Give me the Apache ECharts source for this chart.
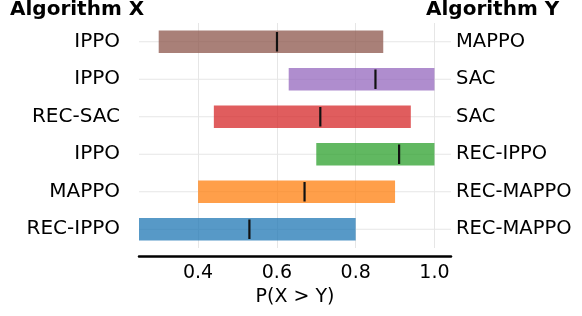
<!DOCTYPE html>
<html><head><meta charset="utf-8">
<script src="https://cdn.jsdelivr.net/npm/echarts@6/dist/echarts.min.js"></script>
<style>html,body{margin:0;padding:0;background:#fff}#c{width:582px;height:316px}</style>
</head><body><div id="c"></div>
<script>
// rows listed bottom to top
const algoX = ['REC-IPPO', 'MAPPO', 'IPPO', 'REC-SAC', 'IPPO', 'IPPO'];
const algoY = ['REC-MAPPO', 'REC-MAPPO', 'REC-IPPO', 'SAC', 'SAC', 'MAPPO'];
const lowVals = [0.25, 0.40, 0.70, 0.44, 0.63, 0.30];
const highVals = [0.80, 0.90, 1.00, 0.94, 1.00, 0.87];
const medianVals = [0.53, 0.67, 0.91, 0.71, 0.85, 0.60];
const barColors = ['#1f77b4', '#ff7f0e', '#2ca02c', '#d62728', '#9467bd', '#8c564b'];
const xTicks = [0.4, 0.6, 0.8, 1.0];
const xMin = 0.25, xMax = 1.042;

const FONT = 'DejaVu Sans';
const chart = echarts.init(document.getElementById('c'), null, {renderer: 'canvas'});
const rows = algoX.map((x, i) => [i, lowVals[i], highVals[i], medianVals[i]]);

chart.setOption({
  animation: false,
  backgroundColor: '#fff',
  title: [
    {text: 'Algorithm X', left: 10, top: 0, padding: 0,
     textStyle: {fontFamily: FONT, fontWeight: 'bold', fontSize: 20, color: '#000'}},
    {text: 'Algorithm Y', left: 426, top: 0, padding: 0,
     textStyle: {fontFamily: FONT, fontWeight: 'bold', fontSize: 20, color: '#000'}}
  ],
  grid: {left: 139, right: 131, top: 23, height: 225, containLabel: false},
  xAxis: {
    type: 'value', min: xMin, max: xMax, offset: 8,
    axisLine: {show: true, onZero: false, lineStyle: {color: '#000', width: 2.5}},
    axisTick: {show: false, customValues: xTicks},
    axisLabel: {customValues: xTicks, margin: 8, fontFamily: FONT, fontSize: 19, color: '#000',
      formatter: v => v.toFixed(1)},
    splitLine: {show: true, lineStyle: {color: '#e6e6e6', width: 1}},
    name: 'P(X > Y)', nameLocation: 'middle', nameGap: 29,
    nameTextStyle: {fontFamily: FONT, fontSize: 19, color: '#000'}
  },
  yAxis: [
    {type: 'category', data: algoX, position: 'left',
     axisLine: {show: false}, axisTick: {show: false}, splitLine: {show: false},
     axisLabel: {margin: 19, fontFamily: FONT, fontSize: 20, color: '#000'}},
    {type: 'category', data: algoY, position: 'right',
     axisLine: {show: false}, axisTick: {show: false}, splitLine: {show: false},
     axisLabel: {margin: 5, fontFamily: FONT, fontSize: 19.5, color: '#000'}}
  ],
  series: [{
    type: 'custom',
    xAxisIndex: 0, yAxisIndex: 0,
    data: rows,
    encode: {x: [1, 2, 3], y: 0},
    renderItem: function (params, api) {
      const idx = api.value(0);
      const lo = api.coord([api.value(1), idx]);
      const hi = api.coord([api.value(2), idx]);
      const md = api.coord([api.value(3), idx]);
      const band = api.size([0, 1])[1];
      const h = band * 0.6;
      const mh = band * 0.52;
      const gl = api.coord([xMin, idx]);
      const gr = api.coord([xMax, idx]);
      return {
        type: 'group',
        children: [
          {type: 'line', shape: {x1: gl[0], y1: gl[1], x2: gr[0], y2: gr[1]},
           style: {stroke: '#e6e6e6', lineWidth: 1}, z2: 0},
          {type: 'rect', shape: {x: lo[0], y: lo[1] - h / 2, width: hi[0] - lo[0], height: h},
           style: {fill: barColors[idx], opacity: 0.75}, z2: 1},
          {type: 'rect', shape: {x: md[0] - 1, y: md[1] - mh / 2, width: 2.2, height: mh},
           style: {fill: '#111'}, z2: 2}
        ]
      };
    }
  }]
});
</script></body></html>
